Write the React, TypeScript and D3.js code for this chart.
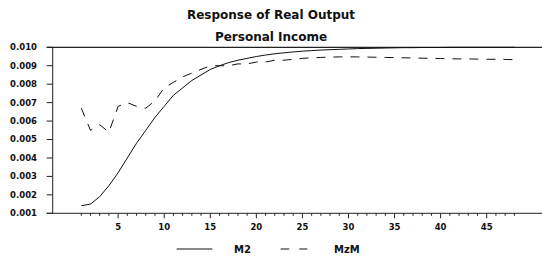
import React from 'react';
import * as d3 from 'd3';

// Impulse response chart: M2 vs MzM, real output / personal income.

const WIDTH = 542;
const HEIGHT = 260;
const PLOT = { left: 52.7, right: 542, top: 47.3, bottom: 213.3 };
const FONT = '"DejaVu Sans", sans-serif';

const periods = d3.range(1, 49);

const m2 = [
  0.00141, 0.0015, 0.0019, 0.0025, 0.0032, 0.004, 0.0048, 0.0055, 0.0062, 0.0068,
  0.0074, 0.0078, 0.0082, 0.0085, 0.0088, 0.009, 0.00917, 0.0093, 0.0094, 0.0095,
  0.00958, 0.00965, 0.0097, 0.00975, 0.00979, 0.00982, 0.00985, 0.00987, 0.00989, 0.00991,
  0.00993, 0.00994, 0.00995, 0.00996, 0.00997, 0.00998, 0.00998, 0.00999, 0.00999, 0.00999,
  0.01, 0.01, 0.01, 0.01, 0.01, 0.01, 0.01, 0.01,
];

const mzm = [
  0.0067, 0.0055, 0.0058, 0.0054, 0.0068, 0.007, 0.0068, 0.0067, 0.0071, 0.0078,
  0.0081, 0.0084, 0.0086, 0.0088, 0.009, 0.009, 0.009, 0.0091, 0.0091, 0.0092,
  0.0092, 0.0093, 0.0093, 0.00935, 0.0094, 0.00943, 0.00945, 0.00947, 0.00948, 0.00948,
  0.00948, 0.00947, 0.00946, 0.00945, 0.00944, 0.00943, 0.00942, 0.00941, 0.0094, 0.00939,
  0.00938, 0.00937, 0.00937, 0.00936, 0.00935, 0.00935, 0.00934, 0.00933,
];

const yTicks = d3.range(1, 11).map((i) => i / 1000);
const xLabelTicks = [5, 10, 15, 20, 25, 30, 35, 40, 45];

const title = 'Response of Real Output';
const subtitle = 'Personal Income';

export default function App() {
  const x = d3.scaleLinear().domain([-2.1, 51]).range([PLOT.left, PLOT.right]);
  const y = d3.scaleLinear().domain([0.001, 0.01]).range([PLOT.bottom, PLOT.top]);

  const line = d3
    .line<number>()
    .x((_, i) => x(periods[i]))
    .y((d) => y(d));

  return (
    <svg
      width={WIDTH}
      height={HEIGHT}
      style={{ position: 'absolute', left: 0, top: 0, background: '#fff' }}
      fontFamily={FONT}
    >
      <text x={271} y={19} textAnchor="middle" fontSize={12} fontWeight="bold" fill="#111">
        {title}
      </text>
      <text x={271} y={41} textAnchor="middle" fontSize={12} fontWeight="bold" fill="#111">
        {subtitle}
      </text>

      {/* frame: top line, y axis, x axis */}
      <line x1={46.7} x2={PLOT.right} y1={PLOT.top} y2={PLOT.top} stroke="#222" strokeWidth={1.2} />
      <line x1={PLOT.left} x2={PLOT.left} y1={PLOT.top} y2={PLOT.bottom} stroke="#222" strokeWidth={1} />
      <line x1={46.7} x2={PLOT.right} y1={PLOT.bottom} y2={PLOT.bottom} stroke="#222" strokeWidth={1} />

      {yTicks.map((t) => (
        <g key={`y-${t}`}>
          <line x1={46.7} x2={PLOT.left} y1={y(t)} y2={y(t)} stroke="#222" strokeWidth={1} />
          <text
            x={37}
            y={y(t)}
            dy="0.35em"
            textAnchor="end"
            fontSize={8.5}
            fontWeight="bold"
            fill="#111"
          >
            {t.toFixed(3)}
          </text>
        </g>
      ))}

      {periods.map((p) => (
        <line
          key={`xt-${p}`}
          x1={x(p)}
          x2={x(p)}
          y1={PLOT.bottom}
          y2={PLOT.bottom + (p % 5 === 0 ? 5 : 2.5)}
          stroke="#222"
          strokeWidth={1}
        />
      ))}
      {xLabelTicks.map((p) => (
        <text
          key={`xl-${p}`}
          x={x(p)}
          y={230}
          textAnchor="middle"
          fontSize={8.5}
          fontWeight="bold"
          fill="#111"
        >
          {p}
        </text>
      ))}

      <path d={line(m2) ?? ''} fill="none" stroke="#111" strokeWidth={1} />
      <path d={line(mzm) ?? ''} fill="none" stroke="#111" strokeWidth={1} strokeDasharray="9,8" />

      {/* legend */}
      <line x1={176.7} x2={212.3} y1={249} y2={249} stroke="#111" strokeWidth={1} />
      <text x={234} y={249} dy="0.35em" fontSize={10} fontWeight="bold" fill="#111">
        M2
      </text>
      <line x1={280.7} x2={307.3} y1={249} y2={249} stroke="#111" strokeWidth={1} strokeDasharray="8.6,10" />
      <text x={334} y={249} dy="0.35em" fontSize={10} fontWeight="bold" fill="#111">
        MzM
      </text>
    </svg>
  );
}
